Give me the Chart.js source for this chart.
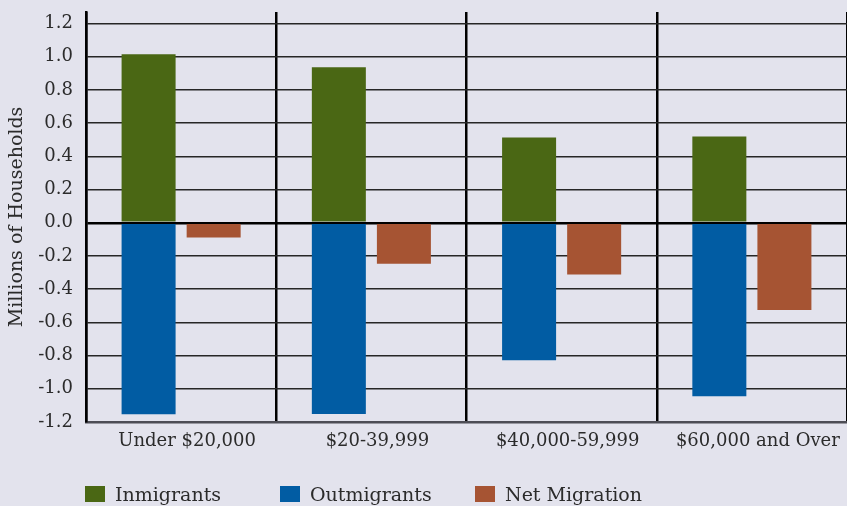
<!DOCTYPE html>
<html lang="en">
<head>
  <meta charset="UTF-8">
  <title>Migration by Income</title>
  <script src="https://cdn.jsdelivr.net/npm/chart.js"></script>
  <style>
    html, body { margin: 0; padding: 0; background: #e3e3ed; }
    #wrap { position: relative; width: 847px; height: 506px; overflow: hidden; }
    #legend { position: absolute; left: 85px; top: 483px; display: flex;
      font-family: "DejaVu Serif", serif; font-size: 19px; color: #2b2b2b; }
    #legend .item { width: 195px; display: flex; align-items: center; }
    #legend .box { width: 20px; height: 16px; margin-right: 10px; }
  </style>
</head>
<body>

<div id="wrap">
  <canvas id="myChart"></canvas>
  <div id="legend"></div>
</div>

<script>
  const categories = ["Under $20,000", "$20-39,999", "$40,000-59,999", "$60,000 and Over"];
  const inmigrants = [1.015, 0.937, 0.514, 0.52];
  const outmigrants = [-1.154, -1.152, -0.828, -1.045];
  const netMigration = [-0.089, -0.246, -0.312, -0.526];
  const yTicks = [-1.2, -1.0, -0.8, -0.6, -0.4, -0.2, 0.0, 0.2, 0.4, 0.6, 0.8, 1.0, 1.2];

  const seriesNames = ['Inmigrants', 'Outmigrants', 'Net Migration'];
  const seriesColors = ['#4a6714', '#015ca3', '#a65433'];

  const tickFont = { family: 'DejaVu Serif', size: 18 };
  const titleFont = { family: 'DejaVu Serif', size: 19 };

  const ctx = document.getElementById('myChart').getContext('2d');

  const myChart = new Chart(ctx, {
    type: 'bar',
    data: {
      labels: categories,
      datasets: [
        { label: seriesNames[0], data: inmigrants, backgroundColor: seriesColors[0], stack: 'flow' },
        { label: seriesNames[1], data: outmigrants, backgroundColor: seriesColors[1], stack: 'flow' },
        { label: seriesNames[2], data: netMigration, backgroundColor: seriesColors[2], stack: 'net' }
      ]
    },
    options: {
      responsive: true,
      maintainAspectRatio: false,
      animation: false,
      categoryPercentage: 0.684,
      barPercentage: 0.83,
      layout: { padding: { top: 12, right: 0, left: 0, bottom: 0 } },
      plugins: {
        legend: { display: false },
        tooltip: { enabled: false }
      },
      scales: {
        x: {
          stacked: true,
          grid: { offset: true, color: '#000', lineWidth: 2.5, drawTicks: false },
          border: { color: '#4d4d55', width: 2.5 },
          ticks: { font: tickFont, color: '#2b2b2b', padding: 9, labelOffset: 6, maxRotation: 0 },
          afterFit: scale => { scale.height = 84; }
        },
        y: {
          stacked: true,
          min: -1.2,
          max: 1.27,
          afterBuildTicks: scale => { scale.ticks = yTicks.map(v => ({ value: v })); },
          afterFit: scale => { scale.width = 86; scale.paddingTop = 0; scale.paddingBottom = 0; },
          grid: {
            drawTicks: false,
            color: c => c.tick && c.tick.value === 0 ? '#000' : '#262626',
            lineWidth: c => c.tick && c.tick.value === 0 ? 2.5 : 1.6
          },
          border: { color: '#000', width: 2.5 },
          ticks: { font: tickFont, color: '#2b2b2b', padding: 13, callback: v => v.toFixed(1) },
          title: { display: true, text: 'Millions of Households', font: titleFont, color: '#2b2b2b', padding: { top: 6, bottom: 0 } }
        }
      }
    }
  });

  // legend built from the same series
  const legend = document.getElementById('legend');
  seriesNames.forEach((name, i) => {
    const item = document.createElement('div');
    item.className = 'item';
    item.innerHTML = '<span class="box" style="background:' + seriesColors[i] + '"></span><span>' + name + '</span>';
    legend.appendChild(item);
  });
</script>

</body>
</html>
